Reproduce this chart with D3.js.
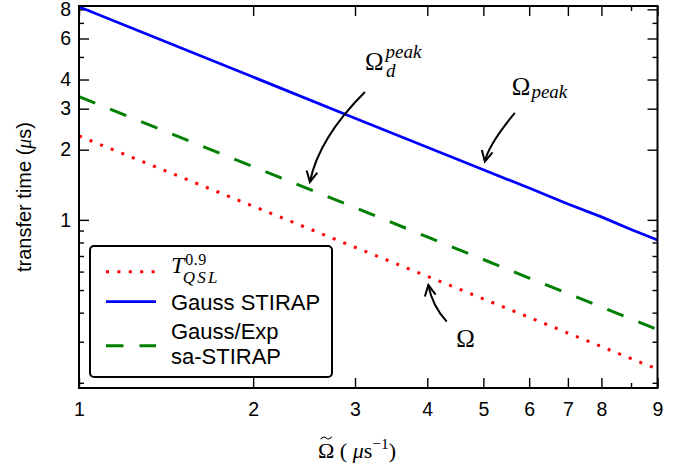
<!DOCTYPE html>
<html>
<head>
<meta charset="utf-8">
<script src="https://cdn.jsdelivr.net/npm/d3@7"></script>
<style>
body { margin: 0; background: #fff; }
text { font-family: "Liberation Sans", Arial, sans-serif; fill: #000; }
.math { font-family: "Liberation Serif", "Times New Roman", serif; }
</style>
</head>
<body>
<svg id="chart"></svg>
<script>
// values (transfer time in µs vs Omega~ in µs^-1)
var omega = [1, 2, 3, 4, 5, 6, 7, 8, 9, 10]
var tQSL = [2.29, 1.145, 0.763, 0.573, 0.458, 0.382, 0.327, 0.286, 0.254, 0.229]
var gaussStirap = [8.2, 4.1, 2.73, 2.05, 1.64, 1.37, 1.17, 1.03, 0.91, 0.82]
var saStirap = [3.38, 1.69, 1.13, 0.845, 0.676, 0.563, 0.483, 0.423, 0.376, 0.338]

var xMajor = [1, 2, 3, 4, 5, 6, 7, 8, 10]
var xMajorLabels = ["1", "2", "3", "4", "5", "6", "7", "8", "9"]
var xMinor = [9]
var yMajor = [1, 2, 3, 4, 6, 8]
var yMajorLabels = ["1", "2", "3", "4", "6", "8"]
var yMinor = [0.2, 0.3, 0.4, 0.5, 0.6, 0.7, 0.8, 0.9, 5, 7]

var legendLabels = ["T_QSL^0.9", "Gauss STIRAP", "Gauss/Exp\nsa-STIRAP"]

// annotation arrow tips, in data coordinates
var annX = [2.507, 5.03, 4.017]
var annY = [1.454, 1.777, 0.5256]

var width = 689, height = 467
var margin = {top: 6, right: 31.5, bottom: 79, left: 79}

var svg = d3.select("#chart")
    .attr("width", width)
    .attr("height", height)

var x = d3.scaleLog()
    .domain([1, 10])
    .range([margin.left, width - margin.right])
var y = d3.scaleLog()
    .domain([0.19, 8.27])
    .range([height - margin.bottom, margin.top])

svg.append("clipPath").attr("id", "plotclip")
    .append("rect")
    .attr("x", margin.left).attr("y", margin.top)
    .attr("width", x.range()[1] - margin.left)
    .attr("height", y.range()[0] - margin.top)

function axis(fn, scale, vals, size, labels, tr, pad) {
    var a = fn(scale).tickValues(vals)
        .tickSizeInner(-size).tickSizeOuter(0).tickPadding(pad || 0)
        .tickFormat(function (d, i) { return labels ? labels[i] : "" })
    var g = svg.append("g")
        .attr("transform", tr)
        .call(a)
    g.select(".domain").remove()
    g.selectAll("line").attr("stroke", "#000").attr("stroke-width", 1.4)
    g.selectAll("text")
        .attr("font-family", "Liberation Sans, Arial, sans-serif")
        .attr("font-size", 19.5)
        .attr("fill", "#000")
    return g
}

var bottomY = y.range()[0], topY = y.range()[1]
var leftX = x.range()[0], rightX = x.range()[1]

// bottom / top
axis(d3.axisBottom, x, xMajor, 10, xMajorLabels, "translate(0," + bottomY + ")", 14)
axis(d3.axisBottom, x, xMinor, 5, null, "translate(0," + bottomY + ")")
axis(d3.axisTop, x, xMajor, 10, null, "translate(0," + topY + ")")
axis(d3.axisTop, x, xMinor, 5, null, "translate(0," + topY + ")")
// left / right
axis(d3.axisLeft, y, yMajor, 10, yMajorLabels, "translate(" + leftX + ",0)", 8)
axis(d3.axisLeft, y, yMinor, 5, null, "translate(" + leftX + ",0)")
axis(d3.axisRight, y, yMajor, 10, null, "translate(" + rightX + ",0)")
axis(d3.axisRight, y, yMinor, 5, null, "translate(" + rightX + ",0)")

// series
var series = [
    {vals: tQSL, color: "#ff0000", width: 3, dash: "3,8.4"},
    {vals: gaussStirap, color: "#0000ff", width: 2.8, dash: null},
    {vals: saStirap, color: "#008000", width: 3, dash: "17.5,16"}
]

var line = d3.line()
    .x(function (d) { return x(d[0]) })
    .y(function (d) { return y(d[1]) })

var plot = svg.append("g").attr("clip-path", "url(#plotclip)")
series.forEach(function (s) {
    plot.append("path")
        .datum(omega.map(function (o, i) { return [o, s.vals[i]] }))
        .attr("d", line)
        .attr("fill", "none")
        .attr("stroke", s.color)
        .attr("stroke-width", s.width)
        .attr("stroke-dasharray", s.dash)
})

// frame
svg.append("rect")
    .attr("x", leftX).attr("y", topY)
    .attr("width", rightX - leftX).attr("height", bottomY - topY)
    .attr("fill", "none")
    .attr("stroke", "#000")
    .attr("stroke-width", 2)

// math text helper
function mtext(g, px, py, str, size, italic) {
    return g.append("text")
        .attr("class", "math")
        .attr("x", px).attr("y", py)
        .attr("font-size", size)
        .attr("font-style", italic ? "italic" : "normal")
        .text(str)
}
function right(t) {
    return +t.attr("x") + t.node().getComputedTextLength()
}
// small tilde accent drawn as a path
function tilde(cx, cy, w) {
    var h = w / 2
    svg.append("path")
        .attr("d", "M" + (cx - h) + "," + (cy + 1.2) +
            "C" + (cx - h * 0.6) + "," + (cy - 2) + " " + (cx - h * 0.2) + "," + (cy - 1.2) + " " + cx + "," + cy +
            "S" + (cx + h * 0.6) + "," + (cy + 2) + " " + (cx + h) + "," + (cy - 1.2))
        .attr("fill", "none").attr("stroke", "#000").attr("stroke-width", 1.1)
}

// annotations
var ann = svg.append("g")
var annLayout = [
    {start: [55, -90], ctrl: [8.75, -43.75]},
    {start: [30, -48.7], ctrl: [3.8, -17.1]},
    {start: [18.4, 36.7], ctrl: [3.7, 20.5]}
]
annX.forEach(function (ax, i) {
    var tx = x(ax), ty = y(annY[i])
    var L = annLayout[i]
    var sx = tx + L.start[0], sy = ty + L.start[1]
    var cx = tx + L.ctrl[0], cy = ty + L.ctrl[1]
    ann.append("path")
        .attr("d", "M" + sx + "," + sy + "Q" + cx + "," + cy + " " + tx + "," + ty)
        .attr("fill", "none").attr("stroke", "#000").attr("stroke-width", 2)
    var ang = Math.atan2(cy - ty, cx - tx)
    var hl = 12, ha = 27 * Math.PI / 180
    var p1 = [tx + hl * Math.cos(ang - ha), ty + hl * Math.sin(ang - ha)]
    var p2 = [tx + hl * Math.cos(ang + ha), ty + hl * Math.sin(ang + ha)]
    ann.append("path")
        .attr("d", "M" + p1 + "L" + tx + "," + ty + "L" + p2)
        .attr("fill", "none").attr("stroke", "#000").attr("stroke-width", 2)
})

// Omega_d^peak
var t1x = x(annX[0]), t1y = y(annY[0])
var o1 = mtext(ann, t1x + 55, t1y - 111.7, "Ω", 25, false)
mtext(ann, right(o1) + 2, t1y - 124, "peak", 19, true)
mtext(ann, right(o1) + 2.5, t1y - 105, "d", 19, true)
// Omega_peak
var t2x = x(annX[1]), t2y = y(annY[1])
var o2 = mtext(ann, t2x + 27, t2y - 66.7, "Ω", 25, false)
mtext(ann, right(o2) + 1, t2y - 64, "peak", 19, true)
// Omega
var t3x = x(annX[2]), t3y = y(annY[2])
mtext(ann, t3x + 28, t3y + 62, "Ω", 25, false)

// legend
var lg = svg.append("g")
lg.append("rect")
    .attr("x", 90).attr("y", 246)
    .attr("width", 242).attr("height", 131)
    .attr("rx", 4).attr("ry", 4)
    .attr("fill", "#fff").attr("stroke", "#000").attr("stroke-width", 2)
var rowY = [271.7, 301.7, 345.7]
series.forEach(function (s, i) {
    lg.append("line")
        .attr("x1", 106).attr("x2", 156)
        .attr("y1", rowY[i]).attr("y2", rowY[i])
        .attr("stroke", s.color)
        .attr("stroke-width", s.width)
        .attr("stroke-dasharray", s.dash)
})
// T_QSL^0.9
var lt = mtext(lg, 171, 273, legendLabels[0].charAt(0), 24, true)
var ltr = right(lt)
mtext(lg, ltr + 1, 264.5, legendLabels[0].split("^")[1], 16, false)
    .attr("letter-spacing", 0.5)
mtext(lg, ltr - 1.5, 283, legendLabels[0].split("^")[0].split("_")[1], 17, true)
    .attr("letter-spacing", 2.2)
lg.append("text")
    .attr("x", 171).attr("y", 310)
    .attr("font-size", 22)
    .text(legendLabels[1])
legendLabels[2].split("\n").forEach(function (s, j) {
    lg.append("text")
        .attr("x", 171).attr("y", 339.3 + j * 25)
        .attr("font-size", 22)
        .text(s)
})

// axis titles
var xl = svg.append("text")
    .attr("class", "math")
    .attr("x", 318).attr("y", 458)
    .attr("font-size", 22)
xl.append("tspan").text("Ω")
xl.append("tspan").text(" ( ")
xl.append("tspan").attr("font-style", "italic").text("μ")
xl.append("tspan").text("s")
xl.append("tspan").attr("font-size", 15.5).attr("dy", -9).text("−1")
xl.append("tspan").attr("dy", 9).text(")")
var n0 = xl.node()
var ox0 = n0.getStartPositionOfChar(0).x, ox1 = n0.getEndPositionOfChar(0).x
tilde((ox0 + ox1) / 2, 438, 11)

var yl = svg.append("text")
    .attr("transform", "translate(31," + ((topY + bottomY) / 2) + ") rotate(-90)")
    .attr("text-anchor", "middle")
    .attr("font-size", 20)
yl.append("tspan").text("transfer time (")
yl.append("tspan").attr("class", "math").attr("font-style", "italic").text("μ")
yl.append("tspan").text("s)")
</script>
</body>
</html>
